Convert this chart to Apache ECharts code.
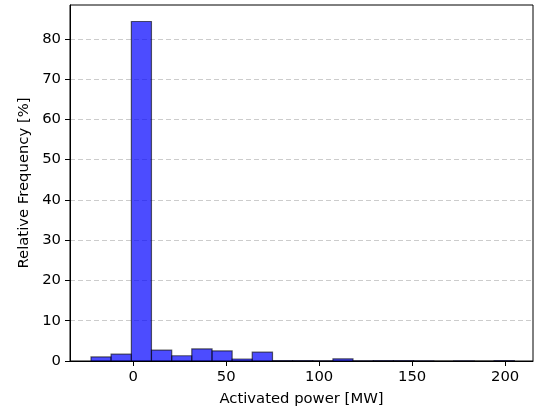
<!DOCTYPE html>
<html>
<head>
<meta charset="utf-8">
<script src="https://cdn.jsdelivr.net/npm/echarts@6/dist/echarts.min.js"></script>
<style>
  html, body { margin: 0; padding: 0; background: #fff; }
  #chart { width: 539px; height: 412px; }
</style>
</head>
<body>
<div id="chart"></div>
<script>
  // histogram bin edges (MW) and relative frequency per bin (%)
  const binEdges = [-22.7, -11.9, -1.0, 9.8, 20.7, 31.5, 42.4, 53.2, 64.0, 74.9, 85.7,
    96.6, 107.4, 118.2, 129.1, 139.9, 150.8, 161.6, 172.4, 183.3, 194.1, 205.0];
  const frequency = [1.0, 1.7, 84.3, 2.7, 1.3, 3.0, 2.5, 0.5, 2.2, 0.1, 0.1,
    0.05, 0.55, 0.05, 0.1, 0.1, 0.05, 0.0, 0.05, 0.0, 0.1];
  const xTicks = [0, 50, 100, 150, 200];

  const bins = frequency.map((v, i) => [binEdges[i], binEdges[i + 1], v]);

  const chart = echarts.init(document.getElementById("chart"));
  const font = "DejaVu Sans";
  const fs = 14.8;

  chart.setOption({
    animation: false,
    grid: {
      left: 70, right: 6, top: 5, bottom: 49,
      show: true, borderColor: "#000", borderWidth: 1, backgroundColor: "transparent"
    },
    xAxis: {
      type: "value",
      min: -34, max: 215,
      name: "Activated power [MW]",
      nameLocation: "middle",
      nameGap: 31,
      nameTextStyle: { fontFamily: font, fontSize: fs, color: "#000" },
      axisLine: { show: true, onZero: false, lineStyle: { color: "#000" } },
      axisTick: { show: true, length: 5, lineStyle: { color: "#000" }, customValues: xTicks },
      axisLabel: { fontFamily: font, fontSize: fs, color: "#000", margin: 9, customValues: xTicks },
      splitLine: { show: false }
    },
    yAxis: {
      type: "value",
      min: 0, max: 88.4, interval: 10,
      name: "Relative Frequency [%]",
      nameLocation: "middle",
      nameGap: 36,
      nameTextStyle: { fontFamily: font, fontSize: fs, color: "#000" },
      axisLine: { show: true, onZero: false, lineStyle: { color: "#000" } },
      axisTick: { show: true, length: 5, lineStyle: { color: "#000" } },
      axisLabel: { fontFamily: font, fontSize: fs, color: "#000", margin: 9, showMaxLabel: false },
      splitLine: {
        show: true, showMinLine: false, showMaxLine: false,
        lineStyle: { color: "#cccccc", type: [5, 3], width: 1 }
      }
    },
    series: [{
      type: "custom",
      data: bins,
      encode: { x: [0, 1], y: 2 },
      renderItem: function (params, api) {
        const p0 = api.coord([api.value(0), api.value(2)]);
        const p1 = api.coord([api.value(1), 0]);
        return {
          type: "rect",
          shape: { x: p0[0], y: p0[1], width: p1[0] - p0[0], height: p1[1] - p0[1] },
          style: { fill: "rgba(0,0,255,0.7)", stroke: "rgba(0,0,0,0.6)", lineWidth: 1.2 }
        };
      }
    }]
  });
</script>
</body>
</html>
